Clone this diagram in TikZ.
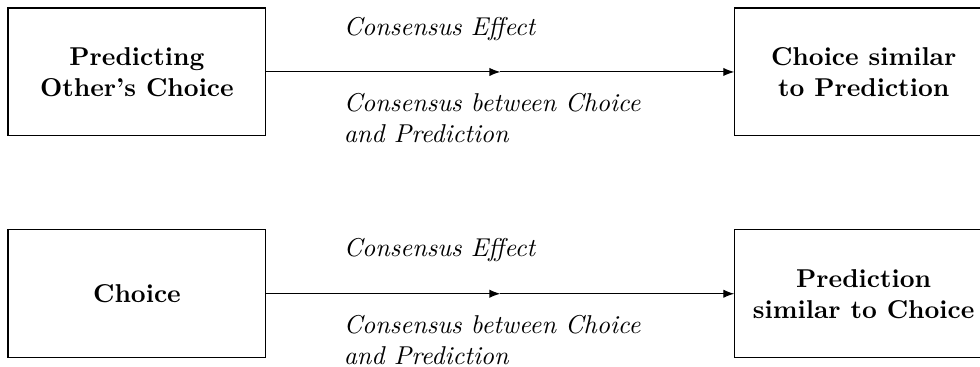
\documentclass[tikz,border=0pt]{standalone}
\usepackage{tikz}
\usetikzlibrary{
  arrows.meta,
  positioning,
  calc
}
\tikzset{
  block/.style={
    rectangle,
    draw=black,
    align=center,
    minimum width=100pt,
    minimum height=49.6pt,
    inner sep=4pt,
    font=\bfseries
  },
  lbl/.style={
    align=left,
    inner sep=0pt,
    font=\itshape
  },
  arrow/.style={
    -{Latex[length=4.2pt,width=3.2pt]}
  }
}

\begin{document}
\begin{tikzpicture}[node distance=36pt and 181.4pt]
\useasboundingbox (0,0) rectangle (380pt,-142.2pt);
\node[block] (pred) at (53.1pt,-27.9pt) {Predicting\\Other's Choice};
\node[block, right=of pred] (simpred) {Choice similar\\to Prediction};
\node[block, below=of pred] (choice) {Choice};
\node[block, right=of choice] (simchoice) {Prediction\\similar to Choice};

\coordinate (mtop) at ($(pred.east)!0.5!(simpred.west)$);
\coordinate (mbot) at ($(choice.east)!0.5!(simchoice.west)$);

\draw[arrow] (pred.east) -- (mtop);
\draw[arrow] (mtop) -- (simpred.west);
\draw[arrow] (choice.east) -- (mbot);
\draw[arrow] (mbot) -- (simchoice.west);

% labels over and under the arrows (base = last line)
\node[lbl, anchor=base west] (efftop) at ($(pred.east)+(29.8pt,14.3pt)$) {Consensus Effect};
\node[lbl, anchor=base west] (constop) at ($(pred.east)+(29.8pt,-27.5pt)$) {Consensus between Choice\\and Prediction};
\node[lbl, anchor=base west] (effbot) at ($(choice.east)+(29.8pt,14.3pt)$) {Consensus Effect};
\node[lbl, anchor=base west] (consbot) at ($(choice.east)+(29.8pt,-27.5pt)$) {Consensus between Choice\\and Prediction};
\end{tikzpicture}
\end{document}
